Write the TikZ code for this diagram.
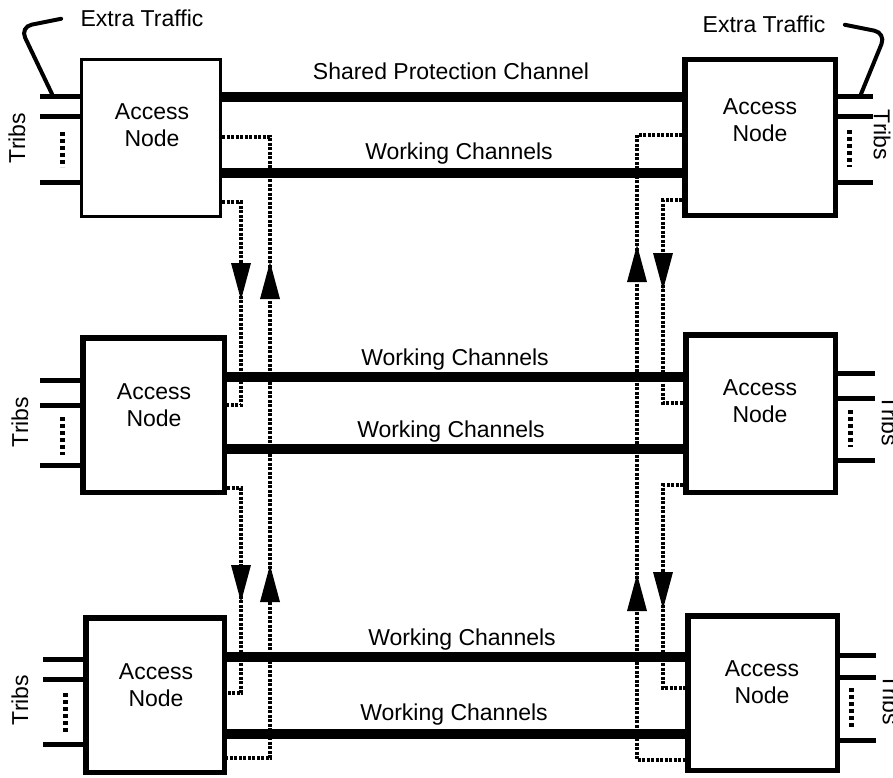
\documentclass[tikz,border=0pt]{standalone}
\usepackage{fontspec}
\setmainfont{Liberation Sans}
\begin{document}
\begin{tikzpicture}[x=1pt,y=-1pt,
  every node/.style={font=\fontsize{23}{27}\selectfont},
  nodebox/.style={draw, line width=5.5pt, inner sep=0pt},
  thinbox/.style={nodebox, line width=3pt},
  nodetext/.style={align=center, inner sep=0pt},
  chan/.style={line width=10.5pt},
  trib/.style={line width=5pt},
  tribdots/.style={line width=5pt, dash pattern=on 4pt off 3pt},
  prot/.style={line width=4.5pt, dash pattern=on 3pt off 1.5pt},
  xtra/.style={line width=4pt, rounded corners=12pt, line cap=round},
  downhead/.pic={\fill (0,0) -- (-10,-37) -- (10,-37) -- cycle;},
  uphead/.pic={\fill (0,0) -- (-10,37) -- (10,37) -- cycle;}]
\useasboundingbox (0,0) rectangle (893,778);

% access nodes
\node[thinbox, minimum width=139pt, minimum height=157pt] (tl) at (151,138) {};
\node[nodebox, minimum width=150.5pt, minimum height=155.5pt] (tr) at (760,137.5) {};
\node[nodebox, minimum width=141.5pt, minimum height=154.5pt] (ml) at (153.5,415) {};
\node[nodebox, minimum width=149.5pt, minimum height=157.5pt] (mr) at (760.5,413.5) {};
\node[nodebox, minimum width=138.5pt, minimum height=154.5pt] (bl) at (155,695) {};
\node[nodebox, minimum width=149.5pt, minimum height=154.5pt] (br) at (762.5,693) {};

\node[nodetext] (tlt) at (152,125) {Access\\Node};
\node[nodetext] (trt) at (760,120) {Access\\Node};
\node[nodetext] (mlt) at (154,405) {Access\\Node};
\node[nodetext] (mrt) at (760,401) {Access\\Node};
\node[nodetext] (blt) at (156,685) {Access\\Node};
\node[nodetext] (brt) at (762,682) {Access\\Node};

% channels between the nodes
\draw[chan] (tl.east |- 0,97) -- (tr.west |- 0,97);
\draw[chan] (tl.east |- 0,173) -- (tr.west |- 0,173);
\draw[chan] (ml.east |- 0,377) -- (mr.west |- 0,377);
\draw[chan] (ml.east |- 0,449) -- (mr.west |- 0,449);
\draw[chan] (bl.east |- 0,657) -- (br.west |- 0,657);
\draw[chan] (bl.east |- 0,734) -- (br.west |- 0,734);

\node[anchor=base] (sp)  at (451,80)  {Shared Protection Channel};
\node[anchor=base] (w1)  at (459,160) {Working Channels};
\node[anchor=base] (w2)  at (455,365) {Working Channels};
\node[anchor=base] (w3)  at (451,437) {Working Channels};
\node[anchor=base] (w4)  at (462,645) {Working Channels};
\node[anchor=base] (w5)  at (454,720) {Working Channels};

% protection switching paths
\draw[prot] (tl.east |- 0,202) -| (241,405) -- (ml.east |- 0,405);
\draw[prot] (ml.east |- 0,488) -| (241,693) -- (bl.east |- 0,693);
\draw[prot] (tl.east |- 0,137) -| (270,758) -- (bl.east |- 0,758);
\draw[prot] (tr.west |- 0,135) -| (637,760) -- (br.west |- 0,760);
\draw[prot] (tr.west |- 0,200) -| (663,403) -- (mr.west |- 0,403);
\draw[prot] (mr.west |- 0,485) -| (663,688) -- (br.west |- 0,688);

\pic at (241,300) {downhead};
\pic at (241,602) {downhead};
\pic at (270,262) {uphead};
\pic at (270,565) {uphead};
\pic at (637,245) {uphead};
\pic at (637,574) {uphead};
\pic at (663,290) {downhead};
\pic at (663,609) {downhead};

% tributaries, left side
\draw[trib] (tl.west |- 0,97)  -- (40,97);
\draw[trib] (tl.west |- 0,117) -- (40,117);
\draw[trib] (tl.west |- 0,182) -- (40,182);
\draw[tribdots] (62,132) -- (62,167);
\draw[trib] (ml.west |- 0,380) -- (40,380);
\draw[trib] (ml.west |- 0,405) -- (40,405);
\draw[trib] (ml.west |- 0,465) -- (40,465);
\draw[tribdots] (62,417) -- (62,455);
\draw[trib] (bl.west |- 0,659) -- (43,659);
\draw[trib] (bl.west |- 0,679) -- (43,679);
\draw[trib] (bl.west |- 0,744) -- (43,744);
\draw[tribdots] (65,693) -- (65,732);

% tributaries, right side
\draw[trib] (tr.east |- 0,97)  -- (873,97);
\draw[trib] (tr.east |- 0,117) -- (873,117);
\draw[trib] (tr.east |- 0,182) -- (873,182);
\draw[tribdots] (849,130) -- (849,167);
\draw[trib] (mr.east |- 0,373) -- (875,373);
\draw[trib] (mr.east |- 0,398) -- (875,398);
\draw[trib] (mr.east |- 0,460) -- (875,460);
\draw[tribdots] (850,410) -- (850,447);
\draw[trib] (br.east |- 0,655) -- (876,655);
\draw[trib] (br.east |- 0,677) -- (876,677);
\draw[trib] (br.east |- 0,740) -- (876,740);
\draw[tribdots] (851,688) -- (851,727);

\node[rotate=90]  (tb1) at (17,138)  {Tribs};
\node[rotate=90]  (tb2) at (20,422)  {Tribs};
\node[rotate=90]  (tb3) at (20,700)  {Tribs};
\node[rotate=-90] (tb4) at (882,135) {Tribs};
\node[rotate=-90] (tb5) at (890,421) {Tribs};
\node[rotate=-90] (tb6) at (891,700) {Tribs};

% extra traffic
\node[anchor=base] (xl) at (142,27) {Extra Traffic};
\node[anchor=base] (xr) at (764,33) {Extra Traffic};
\draw[xtra] ([xshift=-16pt]xl.west) -- (20,27) -- (52,94);
\draw[xtra] ([xshift=16pt]xr.east) -- (886,33) -- (861,94);
\end{tikzpicture}
\end{document}
